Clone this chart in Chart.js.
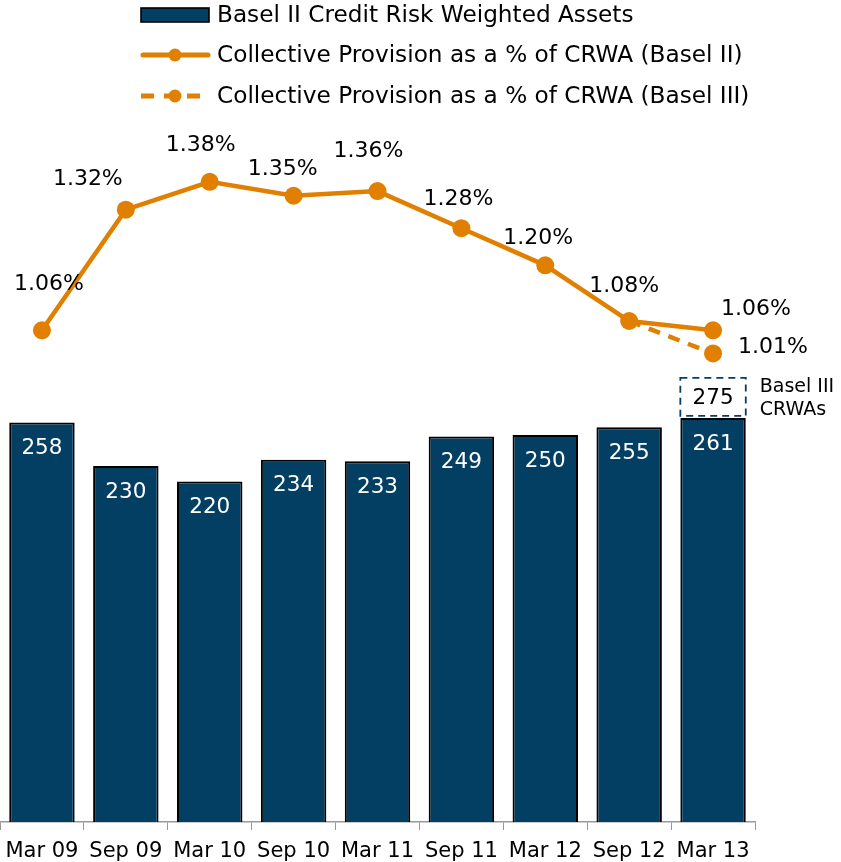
<!DOCTYPE html>
<html>
<head>
<meta charset="utf-8">
<script src="https://cdn.jsdelivr.net/npm/chart.js@4.4.1/dist/chart.umd.min.js"></script>
<style>
  html, body { margin: 0; padding: 0; background: #fff; }
  #wrap { width: 841px; height: 862px; }
</style>
</head>
<body>
<div id="wrap"><canvas id="chart" width="841" height="862"></canvas></div>
<script>
// data
const categories = ["Mar 09", "Sep 09", "Mar 10", "Sep 10", "Mar 11", "Sep 11", "Mar 12", "Sep 12", "Mar 13"];
const crwaBasel2 = [258, 230, 220, 234, 233, 249, 250, 255, 261];
const provBasel2 = [1.06, 1.32, 1.38, 1.35, 1.36, 1.28, 1.20, 1.08, 1.06];
const provBasel3 = [null, null, null, null, null, null, null, 1.08, 1.01];
const crwaBasel3Mar13 = 275;
const legendLabels = [
  "Basel II Credit Risk Weighted Assets",
  "Collective Provision as a % of CRWA (Basel II)",
  "Collective Provision as a % of CRWA (Basel III)"
];

const navy = "#033f62";
const orange = "#e07f00";

// where each % label sits relative to its point
const lblDx = [7, -38, -9, -11, -9, -3, -7, -5, 43];
const lblDy = [-46, -30, -37, -26, -40, -29, -27, -35, -21];

const extras = {
  id: "extras",
  afterDatasetsDraw(chart) {
    const ctx = chart.ctx;
    ctx.save();
    ctx.textAlign = "center";
    ctx.textBaseline = "middle";

    // bar values
    const bars = chart.getDatasetMeta(0).data;
    ctx.font = "21.5px 'DejaVu Sans'";
    ctx.fillStyle = "#fff";
    bars.forEach((b, i) => {
      ctx.fillText(crwaBasel2[i], b.x, b.y + 26);
    });

    // basel III CRWA box over last bar
    const last = bars[bars.length - 1];
    const half = last.width / 2;
    ctx.strokeStyle = navy;
    ctx.lineWidth = 1.8;
    ctx.setLineDash([7, 5]);
    ctx.strokeRect(last.x - half, last.y - 40, last.width, 38);
    ctx.setLineDash([]);
    ctx.fillStyle = "#000";
    ctx.font = "21.5px 'DejaVu Sans'";
    ctx.fillText(crwaBasel3Mar13, last.x, last.y - 20);
    ctx.textAlign = "left";
    ctx.font = "19px 'DejaVu Sans'";
    ctx.fillText("Basel III", last.x + half + 14, last.y - 31);
    ctx.fillText("CRWAs", last.x + half + 14, last.y - 8);

    // % labels
    ctx.textAlign = "center";
    ctx.font = "22px 'DejaVu Sans'";
    chart.getDatasetMeta(1).data.forEach((p, i) => {
      ctx.fillText(provBasel2[i].toFixed(2) + "%", p.x + lblDx[i], p.y + lblDy[i]);
    });
    const p3 = chart.getDatasetMeta(2).data[8];
    ctx.fillText(provBasel3[8].toFixed(2) + "%", p3.x + 60, p3.y - 6);

    // legend
    const lx = 141, tx = 217;
    const rows = [15, 55, 96];
    ctx.textAlign = "left";
    ctx.font = "23.2px 'DejaVu Sans'";
    ctx.fillStyle = navy;
    ctx.fillRect(lx, 8, 68, 14);
    ctx.strokeStyle = "#000";
    ctx.lineWidth = 1.6;
    ctx.strokeRect(lx, 8, 68, 14);

    ctx.strokeStyle = orange;
    ctx.fillStyle = orange;
    ctx.lineWidth = 5;
    ctx.lineCap = "round";
    ctx.beginPath();
    ctx.moveTo(lx + 2, rows[1]);
    ctx.lineTo(lx + 67, rows[1]);
    ctx.stroke();
    ctx.beginPath();
    ctx.arc(lx + 34, rows[1], 6.5, 0, Math.PI * 2);
    ctx.fill();

    ctx.lineCap = "butt";
    ctx.setLineDash([13, 10]);
    ctx.beginPath();
    ctx.moveTo(lx, rows[2]);
    ctx.lineTo(lx + 62, rows[2]);
    ctx.stroke();
    ctx.setLineDash([]);
    ctx.beginPath();
    ctx.arc(lx + 34, rows[2], 6.5, 0, Math.PI * 2);
    ctx.fill();

    ctx.fillStyle = "#000";
    legendLabels.forEach((t, i) => ctx.fillText(t, tx, rows[i] + 1));
    ctx.restore();
  }
};

new Chart(document.getElementById("chart"), {
  data: {
    labels: categories,
    datasets: [
      {
        type: "bar",
        label: legendLabels[0],
        data: crwaBasel2,
        backgroundColor: navy,
        borderColor: "#000",
        borderWidth: 2,
        barPercentage: 0.78,
        categoryPercentage: 1,
        yAxisID: "y",
        order: 3
      },
      {
        type: "line",
        label: legendLabels[1],
        data: provBasel2,
        borderColor: orange,
        backgroundColor: orange,
        borderWidth: 4.5,
        pointRadius: 9,
        pointBorderWidth: 0,
        pointBackgroundColor: orange,
        yAxisID: "y2",
        order: 1
      },
      {
        type: "line",
        label: legendLabels[2],
        data: provBasel3,
        borderColor: orange,
        backgroundColor: orange,
        borderWidth: 4.5,
        borderDash: [12, 9],
        pointRadius: [0, 0, 0, 0, 0, 0, 0, 0, 9],
        pointBorderWidth: 0,
        pointBackgroundColor: orange,
        yAxisID: "y2",
        order: 2
      }
    ]
  },
  options: {
    responsive: false,
    animation: false,
    layout: { autoPadding: false, padding: { left: 0, right: 86, top: 0, bottom: 0 } },
    plugins: {
      legend: { display: false },
      tooltip: { enabled: false }
    },
    scales: {
      x: {
        offset: true,
        afterFit(scale) {
          scale.height = 40;
          scale.paddingLeft = 0;
          scale.paddingRight = 0;
        },
        grid: {
          display: true,
          drawOnChartArea: false,
          drawTicks: true,
          tickLength: 8,
          color: "#999",
          offset: true
        },
        border: { color: "#999", width: 1.5 },
        ticks: {
          color: "#000",
          padding: 9,
          maxRotation: 0,
          autoSkip: false,
          font: { family: "'DejaVu Sans'", size: 21 }
        }
      },
      y: { display: false, min: 0, max: 531 },
      y2: { display: false, min: 0, max: 1.772 }
    }
  },
  plugins: [extras]
});
</script>
</body>
</html>
